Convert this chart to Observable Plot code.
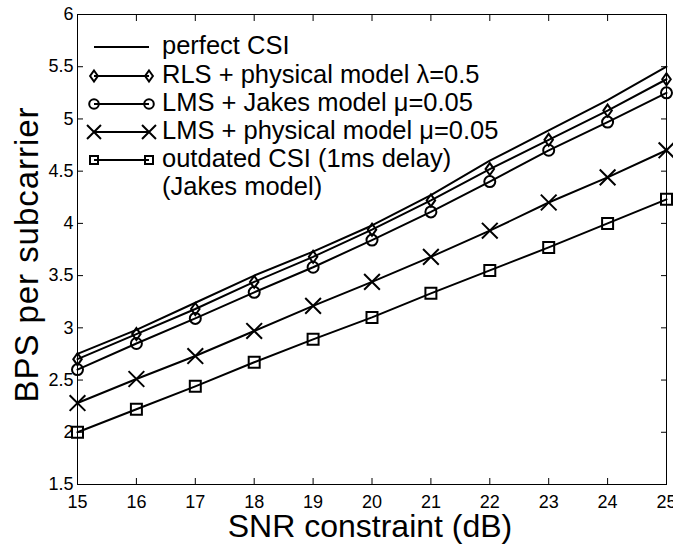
<!DOCTYPE html>
<html>
<head>
<meta charset="utf-8">
<script src="https://cdn.jsdelivr.net/npm/d3@7"></script>
<script src="https://cdn.jsdelivr.net/npm/@observablehq/plot@0.6"></script>
<style>
  html, body { margin: 0; padding: 0; background: #fff; }
  #chart { width: 673px; height: 550px; overflow: hidden; }
  #chart g[aria-label="x-axis tick label"] text,
  #chart g[aria-label="y-axis tick label"] text { font-size: 18px !important; }
</style>
</head>
<body>
<div id="chart"></div>
<script>
// ---- data ----
const snr = [15, 16, 17, 18, 19, 20, 21, 22, 23, 24, 25];
const perfectCSI = [2.75, 2.98, 3.24, 3.50, 3.73, 3.98, 4.27, 4.60, 4.89, 5.18, 5.50];
const rlsPhysical = [2.70, 2.94, 3.18, 3.44, 3.68, 3.94, 4.22, 4.52, 4.80, 5.08, 5.38];
const lmsJakes = [2.60, 2.85, 3.09, 3.34, 3.58, 3.84, 4.11, 4.40, 4.70, 4.97, 5.25];
const lmsPhysical = [2.28, 2.51, 2.73, 2.97, 3.21, 3.44, 3.68, 3.93, 4.20, 4.44, 4.70];
const outdatedCSI = [2.00, 2.22, 2.44, 2.67, 2.89, 3.10, 3.33, 3.55, 3.77, 4.00, 4.23];
const xTicks = [15, 16, 17, 18, 19, 20, 21, 22, 23, 24, 25];
const yTicks = [1.5, 2, 2.5, 3, 3.5, 4, 4.5, 5, 5.5, 6];
const seriesNames = ["perfect CSI", "RLS + physical model λ=0.5", "LMS + Jakes model μ=0.05", "LMS + physical model μ=0.05", "outdated CSI (1ms delay)"];
const legendExtraLine = "(Jakes model)";

const seriesValues = [perfectCSI, rlsPhysical, lmsJakes, lmsPhysical, outdatedCSI];
const table = [];
seriesNames.forEach((name, i) => snr.forEach((x, j) => table.push({snr: x, bps: seriesValues[i][j], series: name})));
const of = name => table.filter(d => d.series === name);

// custom tall diamond (MATLAB-like)
const tallDiamond = {
  draw(ctx, size) {
    const r = Math.sqrt(size / Math.PI);
    ctx.moveTo(0, -r * 1.2);
    ctx.lineTo(r * 0.85, 0);
    ctx.lineTo(0, r * 1.2);
    ctx.lineTo(-r * 0.85, 0);
    ctx.closePath();
  }
};

const W = 673, H = 550;
const font = "Arial, 'Liberation Sans', sans-serif";
const dotStyle = {x: "snr", y: "bps", stroke: "black", fill: "none", strokeWidth: 2};

const plot = Plot.plot({
  width: W,
  height: H,
  marginLeft: 77,
  marginRight: 7,
  marginTop: 14,
  marginBottom: 66,
  style: {fontFamily: font, fontSize: "18px", color: "black", background: "white", overflow: "visible"},
  x: {domain: [15, 25]},
  y: {domain: [1.5, 6]},
  marks: [
    Plot.frame({stroke: "black", strokeWidth: 1}),
    // inward ticks on all four sides
    Plot.axisX(xTicks, {anchor: "bottom", tickSize: -6, tickFormat: () => "", label: null}),
    Plot.axisX(xTicks, {anchor: "top", tickSize: -6, tickFormat: () => "", label: null}),
    Plot.axisY(yTicks, {anchor: "left", tickSize: -6, tickFormat: () => "", label: null}),
    Plot.axisY(yTicks, {anchor: "right", tickSize: -6, tickFormat: () => "", label: null}),
    // tick labels
    Plot.axisX(xTicks, {anchor: "bottom", tickSize: 0, tickPadding: 11, tickFormat: d => String(d), label: null, fill: "black", fontSize: 18}),
    Plot.axisY(yTicks, {anchor: "left", tickSize: 0, tickPadding: 4, tickFormat: d => String(d), label: null, fill: "black", fontSize: 18}),
    // lines
    Plot.line(table, {x: "snr", y: "bps", z: "series", stroke: "black", strokeWidth: 2}),
    // markers
    Plot.dot(of(seriesNames[1]), {...dotStyle, symbol: tallDiamond, r: 5}),
    Plot.dot(of(seriesNames[2]), {...dotStyle, symbol: "circle", r: 5.5}),
    Plot.dot(of(seriesNames[3]), {...dotStyle, symbol: "times", r: 7.2}),
    Plot.dot(of(seriesNames[4]), {...dotStyle, symbol: "square", r: 6.2})
  ]
});

document.getElementById("chart").appendChild(plot);

// axis titles and legend (text / layout)
const svg = d3.select(plot);
svg.selectAll('g[aria-label="x-axis tick label"], g[aria-label="y-axis tick label"]')
  .attr("font-size", 18).style("font-size", "18px");
svg.append("text")
  .attr("x", 370).attr("y", 537)
  .attr("text-anchor", "middle")
  .attr("font-family", font).attr("font-size", 32).attr("fill", "black")
  .text("SNR constraint (dB)");
svg.append("text")
  .attr("transform", "translate(38,255) rotate(-90)")
  .attr("text-anchor", "middle")
  .attr("font-family", font).attr("font-size", 33).attr("fill", "black")
  .attr("textLength", 295).attr("lengthAdjust", "spacing")
  .text("BPS per subcarrier");

const legendY = [47, 76, 104, 132, 160];
const lx1 = 94, lx2 = 149, tx = 162;
const lg = svg.append("g").attr("stroke", "black").attr("stroke-width", 2).attr("fill", "none");
const legendSymbols = [
  null,
  d3.symbol(tallDiamond, Math.PI * 4.6 * 4.6),
  d3.symbol(d3.symbolCircle, Math.PI * 4.8 * 4.8),
  d3.symbol(d3.symbolTimes, Math.PI * 6.4 * 6.4),
  d3.symbol(d3.symbolSquare, 64)
];
seriesNames.forEach((name, i) => {
  const y = legendY[i];
  lg.append("line").attr("x1", lx1).attr("x2", lx2).attr("y1", y).attr("y2", y);
  if (legendSymbols[i]) {
    [lx1, lx2].forEach(x => lg.append("path").attr("d", legendSymbols[i]()).attr("transform", `translate(${x},${y})`));
  }
  svg.append("text").attr("x", tx).attr("y", y + 6.5)
    .attr("text-anchor", "start")
    .attr("font-family", font).attr("font-size", 25.5).attr("fill", "black")
    .text(name);
});
svg.append("text").attr("x", tx).attr("y", legendY[4] + 6.5 + 28)
  .attr("text-anchor", "start")
  .attr("font-family", font).attr("font-size", 25.5).attr("fill", "black")
  .text(legendExtraLine);
</script>
</body>
</html>
